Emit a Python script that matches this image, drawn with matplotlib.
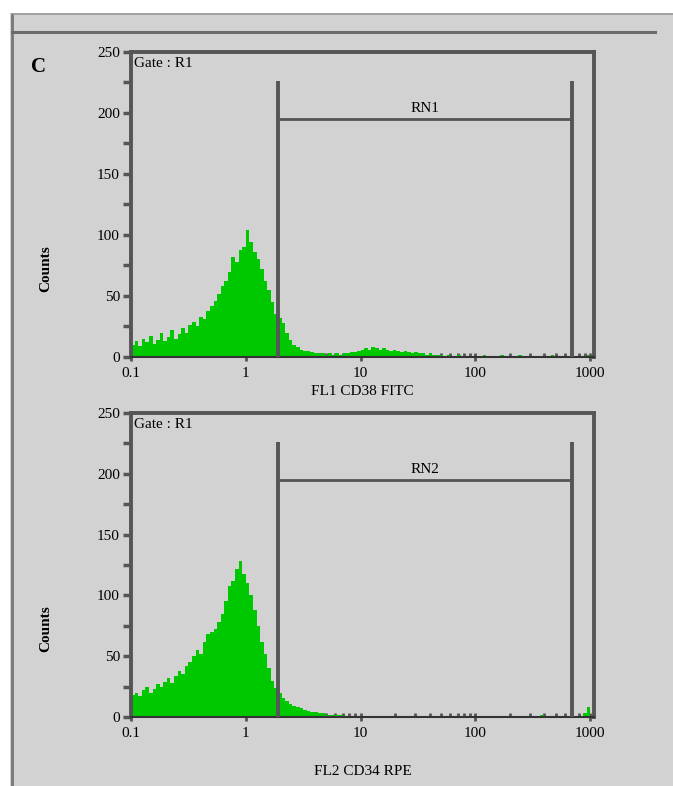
import numpy as np
import matplotlib.pyplot as plt
from matplotlib.ticker import FixedLocator, NullFormatter

# histogram counts, 32 channels per decade from 0.1 to 1000 (128 channels)
cd38_counts = [
    10, 13, 9, 15, 12, 17, 11, 14,
    20, 13, 16, 22, 15, 19, 24, 20,
    26, 29, 25, 33, 31, 38, 42, 46,
    52, 58, 62, 70, 82, 78, 88, 90,
    104, 94, 86, 80, 72, 62, 55, 45,
    35, 32, 28, 20, 14, 10, 8, 6,
    5, 5, 4, 3, 3, 3, 2, 3,
    2, 3, 2, 3, 3, 4, 4, 5,
    6, 7, 6, 8, 7, 6, 7, 6,
    5, 6, 5, 4, 5, 4, 3, 4,
    3, 3, 2, 3, 2, 2, 2, 1,
    2, 1, 1, 2, 1, 1, 1, 1,
    1, 1, 2, 1, 1, 1, 1, 2,
    1, 1, 1, 1, 2, 1, 1, 1,
    1, 1, 1, 1, 1, 2, 1, 1,
    1, 1, 1, 1, 1, 1, 1, 2,
]
cd34_counts = [
    18, 20, 17, 22, 25, 20, 23, 27,
    25, 29, 32, 28, 34, 38, 35, 42,
    45, 50, 55, 52, 62, 68, 70, 72,
    78, 85, 95, 108, 112, 122, 128, 118,
    110, 100, 88, 75, 62, 52, 40, 30,
    24, 20, 16, 13, 11, 9, 8, 7,
    6, 5, 4, 4, 3, 3, 2, 2,
    2, 2, 2, 1, 1, 1, 1, 1,
    1, 1, 1, 1, 0, 1, 1, 0,
    1, 0, 1, 1, 0, 1, 0, 1,
    1, 0, 1, 0, 1, 1, 0, 1,
    0, 1, 1, 0, 1, 0, 1, 1,
    1, 0, 1, 1, 0, 1, 1, 0,
    1, 1, 0, 1, 1, 0, 1, 1,
    1, 1, 2, 1, 1, 1, 1, 1,
    1, 1, 1, 1, 1, 1, 3, 8,
]
x_ticks = [0.1, 1, 10, 100, 1000]
x_ticklabels = ["0.1", "1", "10", "100", "1000"]
y_ticks = [0, 50, 100, 150, 200, 250]
gate_low, gate_high = 1.9, 690
gate_top, gate_bar = 226, 195
panels = [
    ("FL1 CD38 FITC", "RN1", cd38_counts),
    ("FL2 CD34 RPE", "RN2", cd34_counts),
]

W, H = 673, 786
bg = "#d2d2d2"
frame = "#555555"
green = "#00c800"
plt.rcParams["font.family"] = ["Liberation Serif", "DejaVu Serif"]

fig = plt.figure(figsize=(W / 100, H / 100), dpi=100, facecolor="white")

# grey page with borders
fig.patches.append(plt.Rectangle((10 / W, 0), 1, 1 - 13 / H, transform=fig.transFigure,
                                 facecolor=bg, edgecolor="none", zorder=-10))
fig.add_artist(plt.Line2D([12 / W, 12 / W], [0, 1 - 14 / H], color="#777777", lw=2))
fig.add_artist(plt.Line2D([12 / W, 1], [1 - 14 / H, 1 - 14 / H], color="#999999", lw=1.2))
fig.add_artist(plt.Line2D([12 / W, 655 / W], [1 - 32 / H, 1 - 32 / H], color="#6a6a6a", lw=2.2))
fig.text(38 / W, 1 - 67 / H, "C", fontsize=15, fontweight="bold", ha="center", va="center")

edges = np.logspace(-1, 3, 129)
axes_px = [(52, 357, 4), (413, 717, 18)]

for (xlabel, gate_name, counts), (top, bottom, xpad) in zip(panels, axes_px):
    ax = fig.add_axes([131 / W, 1 - bottom / H, (594 - 131) / W, (bottom - top) / H])
    ax.set_facecolor(bg)
    ax.stairs(counts, edges, fill=True, color=green, zorder=2)
    ax.set_xscale("log")
    ax.set_xlim(0.1, 1080)
    ax.set_ylim(0, 250)

    ax.xaxis.set_major_locator(FixedLocator(x_ticks))
    ax.set_xticklabels(x_ticklabels)
    ax.xaxis.set_minor_formatter(NullFormatter())
    ax.set_yticks(y_ticks)
    ax.yaxis.set_minor_locator(FixedLocator(np.arange(25, 250, 50)))
    ax.tick_params(axis="y", which="both", direction="out", length=6, width=2.5,
                   color=frame, labelsize=11, pad=2)
    ax.tick_params(axis="x", which="major", direction="inout", length=6, width=2,
                   color=frame, labelsize=11, pad=4)
    ax.tick_params(axis="x", which="minor", direction="in", length=3, width=2, color=frame)

    for side in ["left", "top", "right"]:
        ax.spines[side].set_color(frame)
        ax.spines[side].set_linewidth(2.8)
    ax.spines["bottom"].set_color("#333333")
    ax.spines["bottom"].set_linewidth(1.5)

    ax.set_xlabel(xlabel, fontsize=11, labelpad=xpad)
    ax.set_ylabel("Counts", fontsize=11, fontweight="bold")
    ax.yaxis.set_label_coords(-0.17, 0.29)

    ax.text(0.1 * 1.07, 246, "Gate : R1", fontsize=11, va="top", ha="left")

    # marker region
    ax.vlines([gate_low, gate_high], 0, gate_top, color=frame, lw=2.8, zorder=3)
    ax.hlines(gate_bar, gate_low, gate_high, color=frame, lw=2, zorder=3)
    ax.text(np.sqrt(gate_low * gate_high), gate_bar + 3, gate_name, fontsize=11,
            ha="center", va="bottom")

fig.savefig("out.png", dpi=100, facecolor=fig.get_facecolor())
